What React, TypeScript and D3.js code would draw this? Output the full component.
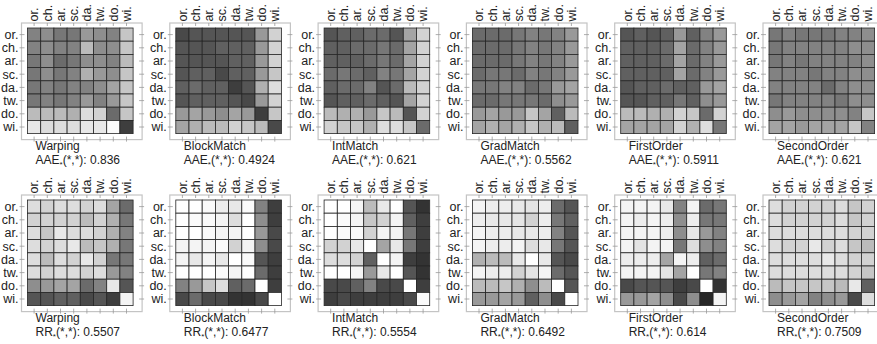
import React from 'react';
import * as d3 from 'd3';

// axis categories (rows and columns share them)
const categories = ['or.', 'ch.', 'ar.', 'sc.', 'da.', 'tw.', 'do.', 'wi.'];
const methods = ['Warping', 'BlockMatch', 'IntMatch', 'GradMatch', 'FirstOrder', 'SecondOrder'];
const aaeScores = ['0.836', '0.4924', '0.621', '0.5562', '0.5911', '0.621'];
const rrScores = ['0.5507', '0.6477', '0.5554', '0.6492', '0.614', '0.7509'];

// cell values, 0 = dark, 1 = white
const aaeWarping = [
  [0.45, 0.5, 0.4, 0.4, 0.55, 0.5, 0.45, 0.75],
  [0.45, 0.5, 0.45, 0.45, 0.7, 0.5, 0.5, 0.75],
  [0.4, 0.5, 0.35, 0.4, 0.5, 0.5, 0.45, 0.7],
  [0.4, 0.5, 0.4, 0.45, 0.65, 0.55, 0.5, 0.75],
  [0.4, 0.45, 0.4, 0.45, 0.45, 0.5, 0.6, 0.75],
  [0.4, 0.45, 0.4, 0.45, 0.55, 0.45, 0.55, 0.75],
  [0.7, 0.7, 0.7, 0.65, 0.85, 0.8, 0.35, 0.75],
  [0.9, 0.85, 0.85, 0.85, 0.9, 0.9, 0.98, 0.15],
];
const aaeBlockMatch = [
  [0.2, 0.25, 0.25, 0.25, 0.25, 0.25, 0.55, 0.8],
  [0.25, 0.25, 0.25, 0.3, 0.3, 0.3, 0.55, 0.8],
  [0.25, 0.25, 0.25, 0.25, 0.3, 0.3, 0.55, 0.8],
  [0.25, 0.3, 0.3, 0.2, 0.3, 0.3, 0.55, 0.75],
  [0.3, 0.35, 0.3, 0.3, 0.15, 0.25, 0.65, 0.85],
  [0.25, 0.3, 0.3, 0.3, 0.25, 0.2, 0.55, 0.8],
  [0.55, 0.6, 0.55, 0.5, 0.6, 0.55, 0.15, 0.75],
  [0.6, 0.65, 0.7, 0.7, 0.8, 0.75, 0.7, 0.2],
];
const aaeIntMatch = [
  [0.25, 0.3, 0.3, 0.35, 0.35, 0.25, 0.6, 0.8],
  [0.3, 0.3, 0.35, 0.35, 0.4, 0.35, 0.6, 0.8],
  [0.3, 0.3, 0.3, 0.35, 0.4, 0.35, 0.6, 0.8],
  [0.35, 0.4, 0.35, 0.3, 0.45, 0.4, 0.6, 0.8],
  [0.3, 0.35, 0.35, 0.45, 0.25, 0.35, 0.7, 0.8],
  [0.25, 0.3, 0.3, 0.35, 0.3, 0.25, 0.6, 0.8],
  [0.7, 0.65, 0.65, 0.55, 0.75, 0.7, 0.25, 0.8],
  [0.8, 0.75, 0.75, 0.65, 0.85, 0.85, 0.75, 0.35],
];
const aaeGradMatch = [
  [0.35, 0.35, 0.35, 0.4, 0.45, 0.4, 0.45, 0.55],
  [0.35, 0.35, 0.35, 0.4, 0.45, 0.4, 0.45, 0.55],
  [0.35, 0.35, 0.35, 0.4, 0.45, 0.4, 0.45, 0.55],
  [0.35, 0.4, 0.4, 0.35, 0.45, 0.4, 0.45, 0.55],
  [0.4, 0.4, 0.45, 0.45, 0.35, 0.4, 0.55, 0.6],
  [0.35, 0.35, 0.4, 0.4, 0.4, 0.35, 0.5, 0.55],
  [0.55, 0.6, 0.55, 0.55, 0.75, 0.6, 0.3, 0.7],
  [0.6, 0.65, 0.6, 0.65, 0.75, 0.65, 0.7, 0.3],
];
const aaeFirstOrder = [
  [0.25, 0.3, 0.25, 0.3, 0.55, 0.3, 0.45, 0.55],
  [0.3, 0.3, 0.3, 0.35, 0.6, 0.35, 0.45, 0.55],
  [0.3, 0.3, 0.3, 0.35, 0.6, 0.35, 0.45, 0.55],
  [0.3, 0.3, 0.3, 0.3, 0.6, 0.35, 0.45, 0.55],
  [0.25, 0.3, 0.3, 0.35, 0.3, 0.3, 0.55, 0.6],
  [0.25, 0.25, 0.3, 0.3, 0.4, 0.3, 0.5, 0.55],
  [0.7, 0.7, 0.65, 0.65, 0.8, 0.75, 0.35, 0.8],
  [0.6, 0.6, 0.6, 0.6, 0.8, 0.65, 0.85, 0.4],
];
const aaeSecondOrder = [
  [0.4, 0.45, 0.4, 0.4, 0.4, 0.45, 0.45, 0.5],
  [0.4, 0.45, 0.45, 0.45, 0.45, 0.45, 0.5, 0.5],
  [0.4, 0.45, 0.4, 0.45, 0.45, 0.45, 0.45, 0.5],
  [0.45, 0.45, 0.45, 0.4, 0.45, 0.45, 0.5, 0.5],
  [0.45, 0.45, 0.45, 0.45, 0.35, 0.45, 0.5, 0.5],
  [0.4, 0.45, 0.45, 0.45, 0.45, 0.4, 0.5, 0.5],
  [0.5, 0.55, 0.5, 0.5, 0.5, 0.5, 0.45, 0.75],
  [0.6, 0.6, 0.55, 0.6, 0.6, 0.6, 0.75, 0.45],
];
const rrWarping = [
  [0.85, 0.8, 0.85, 0.85, 0.8, 0.85, 0.6, 0.35],
  [0.8, 0.8, 0.8, 0.8, 0.7, 0.8, 0.65, 0.4],
  [0.85, 0.75, 0.9, 0.85, 0.85, 0.8, 0.65, 0.45],
  [0.85, 0.8, 0.85, 0.9, 0.7, 0.75, 0.65, 0.4],
  [0.85, 0.7, 0.85, 0.8, 0.9, 0.8, 0.4, 0.4],
  [0.85, 0.8, 0.85, 0.85, 0.8, 0.85, 0.55, 0.45],
  [0.5, 0.55, 0.6, 0.6, 0.35, 0.45, 0.9, 0.25],
  [0.25, 0.25, 0.3, 0.3, 0.2, 0.25, 0.15, 0.95],
];
const rrBlockMatch = [
  [1, 1, 0.98, 0.92, 0.9, 0.98, 0.45, 0.15],
  [1, 0.98, 0.98, 0.95, 0.85, 1, 0.5, 0.15],
  [1, 1, 0.98, 0.95, 0.95, 1, 0.55, 0.2],
  [0.95, 0.95, 0.95, 0.98, 0.8, 0.95, 0.5, 0.2],
  [0.95, 0.9, 0.95, 0.9, 1, 0.98, 0.25, 0.15],
  [1, 1, 1, 0.98, 0.95, 1, 0.35, 0.15],
  [0.45, 0.55, 0.75, 0.85, 0.3, 0.35, 1, 0.15],
  [0.2, 0.35, 0.2, 0.2, 0.1, 0.1, 0.2, 1],
];
const rrIntMatch = [
  [1, 1, 0.95, 0.7, 0.9, 1, 0.25, 0.1],
  [1, 0.98, 0.95, 0.75, 0.8, 0.95, 0.3, 0.15],
  [1, 0.98, 0.98, 0.8, 0.95, 0.95, 0.4, 0.15],
  [0.8, 0.8, 0.9, 1, 0.6, 0.9, 0.4, 0.15],
  [0.85, 0.85, 0.8, 0.3, 1, 0.95, 0.15, 0.1],
  [1, 1, 0.95, 0.55, 0.9, 1, 0.25, 0.1],
  [0.2, 0.2, 0.3, 0.45, 0.2, 0.2, 1, 0.15],
  [0.15, 0.2, 0.15, 0.15, 0.15, 0.15, 0.2, 0.98],
];
const rrGradMatch = [
  [0.95, 0.92, 0.92, 0.9, 0.88, 0.92, 0.35, 0.25],
  [0.92, 0.9, 0.9, 0.88, 0.8, 0.92, 0.4, 0.3],
  [0.95, 0.92, 0.92, 0.9, 0.9, 0.92, 0.45, 0.25],
  [0.95, 0.92, 0.92, 0.95, 0.85, 0.9, 0.4, 0.25],
  [0.65, 0.7, 0.7, 0.9, 1, 0.9, 0.25, 0.2],
  [0.95, 0.92, 0.92, 0.8, 0.88, 0.95, 0.35, 0.25],
  [0.7, 0.7, 0.75, 0.65, 0.5, 0.7, 1, 0.25],
  [0.55, 0.55, 0.6, 0.55, 0.3, 0.5, 0.2, 1],
];
const rrFirstOrder = [
  [0.95, 0.95, 0.95, 0.9, 0.45, 0.95, 0.35, 0.4],
  [0.95, 0.92, 0.95, 0.92, 0.5, 0.92, 0.4, 0.4],
  [0.95, 0.95, 0.95, 0.92, 0.5, 0.9, 0.55, 0.45],
  [0.95, 0.88, 0.95, 0.95, 0.4, 0.85, 0.5, 0.45],
  [0.92, 0.92, 0.92, 0.6, 0.95, 0.92, 0.3, 0.35],
  [0.95, 0.95, 0.95, 0.88, 0.6, 1, 0.4, 0.45],
  [0.2, 0.25, 0.25, 0.25, 0.15, 0.2, 1, 0.1],
  [0.55, 0.55, 0.6, 0.5, 0.2, 0.5, 0.05, 0.95],
];
const rrSecondOrder = [
  [0.85, 0.8, 0.8, 0.8, 0.8, 0.85, 0.75, 0.8],
  [0.85, 0.8, 0.8, 0.8, 0.8, 0.85, 0.75, 0.8],
  [0.85, 0.85, 0.85, 0.85, 0.85, 0.85, 0.8, 0.8],
  [0.85, 0.8, 0.8, 0.9, 0.8, 0.85, 0.75, 0.7],
  [0.85, 0.85, 0.85, 0.85, 0.9, 0.85, 0.8, 0.8],
  [0.85, 0.85, 0.85, 0.85, 0.85, 0.85, 0.8, 0.75],
  [0.7, 0.75, 0.75, 0.75, 0.75, 0.7, 0.9, 0.3],
  [0.5, 0.55, 0.6, 0.45, 0.5, 0.55, 0.2, 0.85],
];

const aaeMatrices = [aaeWarping, aaeBlockMatch, aaeIntMatch, aaeGradMatch, aaeFirstOrder, aaeSecondOrder];
const rrMatrices = [rrWarping, rrBlockMatch, rrIntMatch, rrGradMatch, rrFirstOrder, rrSecondOrder];

const W = 877;
const H = 344;
const gridSize = 105.6;
const font = 'Liberation Sans, Arial, sans-serif';

const gray = d3.scaleLinear<string>().domain([0, 1]).range(['#1c1c1c', '#ffffff']);
const band = d3.scaleBand<string>().domain(categories).range([0, gridSize]);
const panelX = d3.scaleLinear().domain([0, 5]).range([27.5, 769]);

function Panel({ x, y, matrix, method, metric, score }) {
  const bw = band.bandwidth();
  const fl = -6, ft = -5, fr = gridSize + 9, fb = gridSize + 6;
  return (
    <g transform={`translate(${x},${y})`}>
      <rect x={fl} y={ft} width={fr - fl} height={fb - ft} fill="none" stroke="#c4c4c4" strokeWidth={1.2} />
      {categories.map(c => {
        const m = band(c) + bw / 2;
        return (
          <g key={'t' + c} stroke="#999" strokeWidth={0.8}>
            <line x1={fl - 2} x2={fl + 3} y1={m} y2={m} />
            <line x1={fr - 3} x2={fr + 2} y1={m} y2={m} />
            <line y1={ft} y2={ft + 3} x1={m} x2={m} />
            <line y1={fb - 3} y2={fb + 2} x1={m} x2={m} />
          </g>
        );
      })}
      {matrix.map((row, i) =>
        row.map((v, j) => (
          <rect
            key={i + '-' + j}
            x={band(categories[j])}
            y={band(categories[i])}
            width={bw}
            height={bw}
            fill={gray(v)}
            stroke="#262626"
            strokeWidth={0.8}
          />
        ))
      )}
      {categories.map(c => (
        <text key={'r' + c} x={fl - 3} y={band(c) + bw / 2} dy="0.35em" textAnchor="end"
          fontSize={12.5} fontFamily={font} fill="#222">{c}</text>
      ))}
      {categories.map(c => (
        <text key={'c' + c} transform={`translate(${band(c) + bw / 2},${ft - 1.5}) rotate(-90)`} dy="0.35em"
          textAnchor="start" fontSize={12.5} fontFamily={font} fill="#222">{c}</text>
      ))}
      <text x={8} y={gridSize + 16.5} fontSize={12} fontFamily={font} fill="#222">{method}</text>
      <text x={8} y={gridSize + 30.5} fontSize={12} fontFamily={font} fill="#222">
        {metric}
        <tspan fontSize={8} dy={3}>*</tspan>
        <tspan dy={-3}>{`(*,*): ${score}`}</tspan>
      </text>
    </g>
  );
}

export default function App() {
  return (
    <svg width={W} height={H} style={{ position: 'absolute', left: 0, top: 0, background: '#fff' }}>
      {methods.map((m, k) => (
        <Panel key={'a' + m} x={panelX(k)} y={28} matrix={aaeMatrices[k]} method={m} metric="AAE" score={aaeScores[k]} />
      ))}
      {methods.map((m, k) => (
        <Panel key={'r' + m} x={panelX(k)} y={200} matrix={rrMatrices[k]} method={m} metric="RR" score={rrScores[k]} />
      ))}
    </svg>
  );
}
